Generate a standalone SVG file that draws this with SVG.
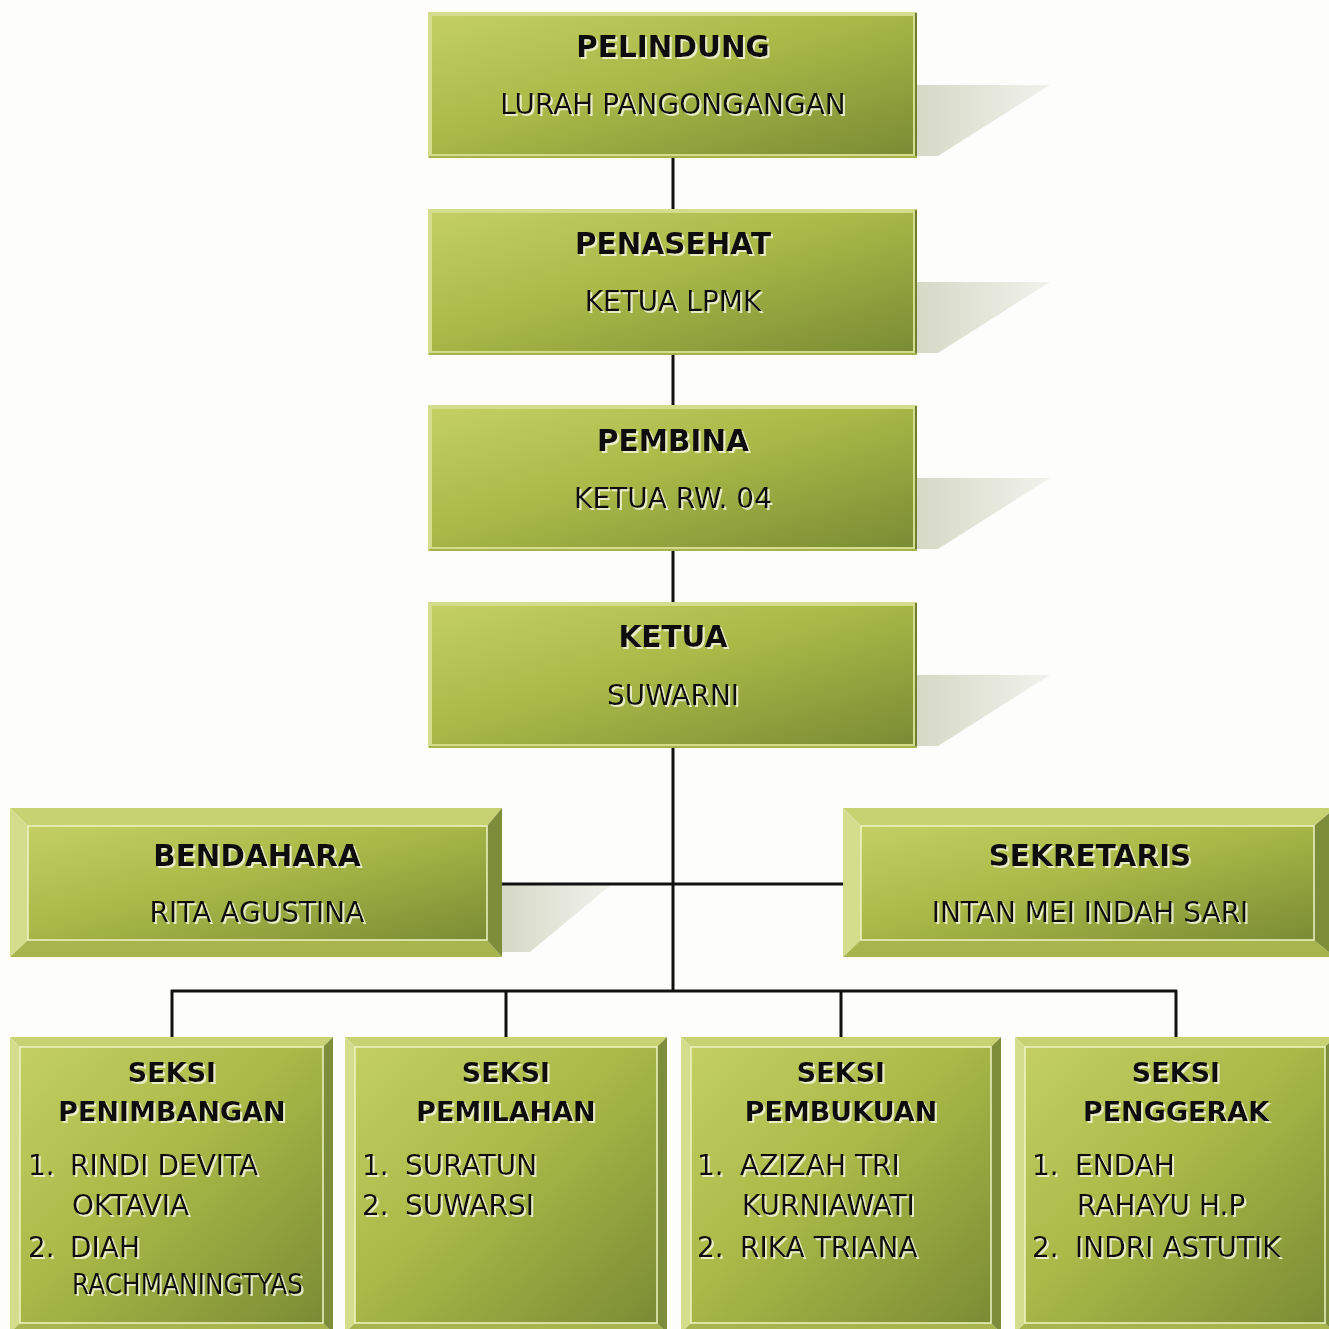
<svg xmlns="http://www.w3.org/2000/svg" width="1329" height="1329" viewBox="0 0 1329 1329">
<style>
.t{font-family:"DejaVu Sans","Verdana",sans-serif;fill:#111;filter:url(#ts)}
.b{font-weight:bold;font-size:29.5px;text-anchor:middle}
.r{font-size:28px;text-anchor:middle}
.sb{font-weight:bold;font-size:27px;text-anchor:middle}
.li{font-size:28px}
.frame{fill:#d3dd8c}
.panel{fill:url(#pg)}
.edge{fill:none;stroke:#eef3c6;stroke-width:1.5}
.bt{fill:#c7d273}.bl{fill:#d3dd8b}.bb{fill:#a6b54d}.br{fill:#7e8d39}
.conn{stroke:#111;stroke-width:3;fill:none}
.sh{fill:url(#shg)}
</style>
<defs>
<linearGradient id="pg" x1="0" y1="0" x2="1" y2="1">
<stop offset="0" stop-color="#c3cf62"/>
<stop offset="0.45" stop-color="#a9ba48"/>
<stop offset="1" stop-color="#7b8b34"/>
</linearGradient>
<linearGradient id="shg" x1="0" y1="0" x2="1" y2="0">
<stop offset="0" stop-color="#d6d9c6"/>
<stop offset="1" stop-color="#f1f2ec"/>
</linearGradient>
<filter id="ts" x="-5%" y="-20%" width="110%" height="150%">
<feOffset in="SourceAlpha" dx="1.5" dy="1.5" result="o"/>
<feFlood flood-color="#f4f6dc" flood-opacity="0.85"/>
<feComposite in2="o" operator="in" result="s"/>
<feMerge><feMergeNode in="s"/><feMergeNode in="SourceGraphic"/></feMerge>
</filter>
</defs>
<rect width="1329" height="1329" fill="#fdfdfc"/>

<g id="shadows">
<polygon class="sh" points="917,85 1050,85 938,156 917,156"/>
<polygon class="sh" points="917,282 1050,282 938,353 917,353"/>
<polygon class="sh" points="917,478 1050,478 938,549 917,549"/>
<polygon class="sh" points="917,675 1050,675 938,746 917,746"/>
<polygon class="sh" points="502,884 612,884 530,952 502,952"/>
</g>

<g id="connectors">
<line class="conn" x1="673" y1="158" x2="673" y2="209"/>
<line class="conn" x1="673" y1="355" x2="673" y2="405"/>
<line class="conn" x1="673" y1="551" x2="673" y2="602"/>
<line class="conn" x1="673" y1="748" x2="673" y2="991"/>
<line class="conn" x1="502" y1="884" x2="843" y2="884"/>
<line class="conn" x1="171" y1="991" x2="1177" y2="991"/>
<line class="conn" x1="172" y1="990" x2="172" y2="1037"/>
<line class="conn" x1="506" y1="990" x2="506" y2="1037"/>
<line class="conn" x1="841" y1="990" x2="841" y2="1037"/>
<line class="conn" x1="1176" y1="990" x2="1176" y2="1037"/>
</g>

<g id="pelindung">
<rect class="frame" x="428" y="12" width="489" height="146"/>
<rect class="panel" x="432" y="16" width="481" height="138"/>
<line x1="916" y1="13" x2="916" y2="158" stroke="#6f7e30" stroke-width="2"/>
<line x1="429" y1="157" x2="917" y2="157" stroke="#a4b34c" stroke-width="2"/>
<text class="t b" x="673" y="57">PELINDUNG</text>
<text class="t r" x="673" y="114">LURAH PANGONGANGAN</text>
</g>

<g id="penasehat">
<rect class="frame" x="428" y="209" width="489" height="146"/>
<rect class="panel" x="432" y="213" width="481" height="138"/>
<line x1="916" y1="210" x2="916" y2="355" stroke="#6f7e30" stroke-width="2"/>
<line x1="429" y1="354" x2="917" y2="354" stroke="#a4b34c" stroke-width="2"/>
<text class="t b" x="673" y="254">PENASEHAT</text>
<text class="t r" x="673" y="311">KETUA LPMK</text>
</g>

<g id="pembina">
<rect class="frame" x="428" y="405" width="489" height="146"/>
<rect class="panel" x="432" y="409" width="481" height="138"/>
<line x1="916" y1="406" x2="916" y2="551" stroke="#6f7e30" stroke-width="2"/>
<line x1="429" y1="550" x2="917" y2="550" stroke="#a4b34c" stroke-width="2"/>
<text class="t b" x="673" y="451">PEMBINA</text>
<text class="t r" x="673" y="508">KETUA RW. 04</text>
</g>

<g id="ketua">
<rect class="frame" x="428" y="602" width="489" height="146"/>
<rect class="panel" x="432" y="606" width="481" height="138"/>
<line x1="916" y1="603" x2="916" y2="748" stroke="#6f7e30" stroke-width="2"/>
<line x1="429" y1="747" x2="917" y2="747" stroke="#a4b34c" stroke-width="2"/>
<text class="t b" x="673" y="647">KETUA</text>
<text class="t r" x="673" y="705">SUWARNI</text>
</g>

<g id="bendahara">
<polygon class="bt" points="10,808 502,808 487,826 28,826"/>
<polygon class="bl" points="10,808 28,826 28,940 10,957"/>
<polygon class="bb" points="10,957 28,940 487,940 502,957"/>
<polygon class="br" points="502,808 502,957 487,940 487,826"/>
<rect class="panel" x="28" y="826" width="459" height="114"/>
<rect class="edge" x="28" y="826" width="459" height="114"/>
<text class="t b" x="257" y="866">BENDAHARA</text>
<text class="t r" x="257" y="922">RITA AGUSTINA</text>
</g>

<g id="sekretaris">
<polygon class="bt" points="843,808 1335,808 1314,826 861,826"/>
<polygon class="bl" points="843,808 861,826 861,940 843,957"/>
<polygon class="bb" points="843,957 861,940 1314,940 1335,957"/>
<polygon class="br" points="1335,808 1335,957 1314,940 1314,826"/>
<rect class="panel" x="861" y="826" width="453" height="114"/>
<rect class="edge" x="861" y="826" width="453" height="114"/>
<text class="t b" x="1090" y="866">SEKRETARIS</text>
<text class="t r" x="1090" y="922">INTAN MEI INDAH SARI</text>
</g>

<g id="seksi-penimbangan">
<polygon class="bt" points="10,1037 333,1037 323,1047 20,1047"/>
<polygon class="bl" points="10,1037 20,1047 20,1323 10,1333"/>
<polygon class="bb" points="10,1333 20,1323 323,1323 333,1333"/>
<polygon class="br" points="333,1037 333,1333 323,1323 323,1047"/>
<rect class="panel" x="20" y="1047" width="303" height="276"/>
<rect class="edge" x="20" y="1047" width="303" height="276"/>
<text class="t sb" x="172" y="1082">SEKSI</text>
<text class="t sb" x="172" y="1121">PENIMBANGAN</text>
<text class="t li" x="28" y="1175">1.</text>
<text class="t li" x="70" y="1175">RINDI DEVITA</text>
<text class="t li" x="72" y="1215">OKTAVIA</text>
<text class="t li" x="28" y="1257">2.</text>
<text class="t li" x="70" y="1257">DIAH</text>
<text class="t li" x="72" y="1294" textLength="231" lengthAdjust="spacingAndGlyphs">RACHMANINGTYAS</text>
</g>

<g id="seksi-pemilahan">
<polygon class="bt" points="345,1037 667,1037 657,1047 355,1047"/>
<polygon class="bl" points="345,1037 355,1047 355,1323 345,1333"/>
<polygon class="bb" points="345,1333 355,1323 657,1323 667,1333"/>
<polygon class="br" points="667,1037 667,1333 657,1323 657,1047"/>
<rect class="panel" x="355" y="1047" width="302" height="276"/>
<rect class="edge" x="355" y="1047" width="302" height="276"/>
<text class="t sb" x="506" y="1082">SEKSI</text>
<text class="t sb" x="506" y="1121">PEMILAHAN</text>
<text class="t li" x="362" y="1175">1.</text>
<text class="t li" x="405" y="1175">SURATUN</text>
<text class="t li" x="362" y="1215">2.</text>
<text class="t li" x="405" y="1215">SUWARSI</text>
</g>

<g id="seksi-pembukuan">
<polygon class="bt" points="681,1037 1001,1037 991,1047 691,1047"/>
<polygon class="bl" points="681,1037 691,1047 691,1323 681,1333"/>
<polygon class="bb" points="681,1333 691,1323 991,1323 1001,1333"/>
<polygon class="br" points="1001,1037 1001,1333 991,1323 991,1047"/>
<rect class="panel" x="691" y="1047" width="300" height="276"/>
<rect class="edge" x="691" y="1047" width="300" height="276"/>
<text class="t sb" x="841" y="1082">SEKSI</text>
<text class="t sb" x="841" y="1121">PEMBUKUAN</text>
<text class="t li" x="697" y="1175">1.</text>
<text class="t li" x="740" y="1175">AZIZAH TRI</text>
<text class="t li" x="742" y="1215">KURNIAWATI</text>
<text class="t li" x="697" y="1257">2.</text>
<text class="t li" x="740" y="1257">RIKA TRIANA</text>
</g>

<g id="seksi-penggerak">
<polygon class="bt" points="1015,1037 1335,1037 1325,1047 1025,1047"/>
<polygon class="bl" points="1015,1037 1025,1047 1025,1323 1015,1333"/>
<polygon class="bb" points="1015,1333 1025,1323 1325,1323 1335,1333"/>
<polygon class="br" points="1335,1037 1335,1333 1325,1323 1325,1047"/>
<rect class="panel" x="1025" y="1047" width="300" height="276"/>
<rect class="edge" x="1025" y="1047" width="300" height="276"/>
<text class="t sb" x="1176" y="1082">SEKSI</text>
<text class="t sb" x="1176" y="1121">PENGGERAK</text>
<text class="t li" x="1032" y="1175">1.</text>
<text class="t li" x="1075" y="1175">ENDAH</text>
<text class="t li" x="1077" y="1215">RAHAYU H.P</text>
<text class="t li" x="1032" y="1257">2.</text>
<text class="t li" x="1075" y="1257">INDRI ASTUTIK</text>
</g>
</svg>
